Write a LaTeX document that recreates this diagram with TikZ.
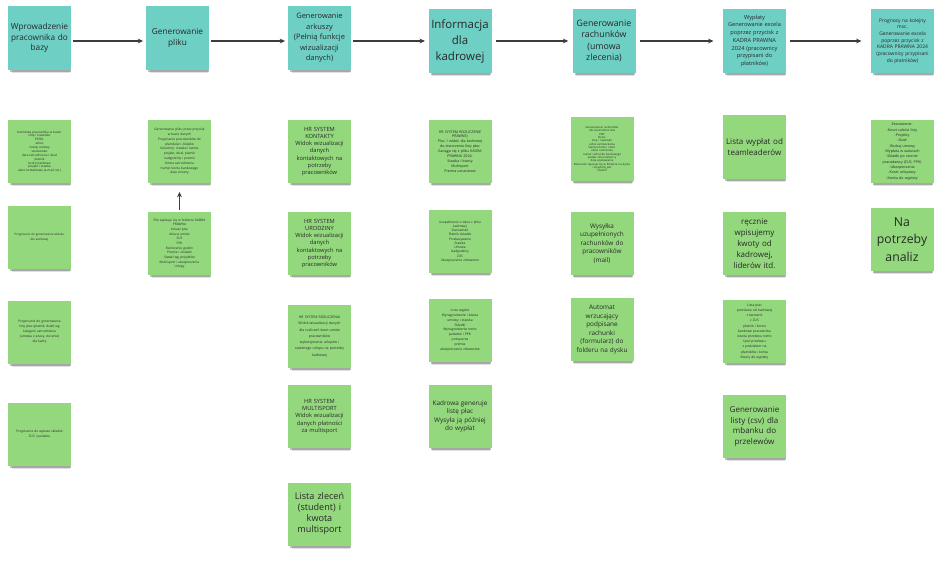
\documentclass[tikz,border=0pt]{standalone}
\usepackage{fontspec}
\setmainfont{Open Sans}
\usetikzlibrary{arrows.meta,shadows}
\definecolor{tealnote}{RGB}{110,207,197}
\definecolor{greennote}{RGB}{147,216,125}
\definecolor{arrowgray}{RGB}{60,60,60}
\definecolor{notetext}{RGB}{40,40,40}
\tikzset{
  x=0.75pt, y=-0.75pt,
  notebase/.style={minimum width=47.25pt, minimum height=47.25pt, inner sep=1pt,
    align=center, text width=45pt, text=notetext,
    drop shadow={shadow xshift=1pt, shadow yshift=-4.5pt, shadow scale=0.92, opacity=0.12, fill=black},
    drop shadow={shadow xshift=0.6pt, shadow yshift=-2.6pt, shadow scale=0.96, opacity=0.25, fill=black}},
  topnote/.style={notebase, fill=tealnote, minimum height=48pt},
  gnote/.style={notebase, fill=greennote},
  fmid/.style={font=\fontsize{6.2}{8}\selectfont},
  fbig/.style={font=\fontsize{8.6}{12}\selectfont},
  fhuge/.style={font=\fontsize{9.2}{13}\selectfont},
  fsmall/.style={font=\fontsize{5.6}{7.9}\selectfont},
  fhr/.style={font=\fontsize{4.3}{5.4}\selectfont},
  fsm/.style={font=\fontsize{4.8}{6.4}\selectfont},
  fxs/.style={font=\fontsize{4.2}{5.8}\selectfont},
  fxxs/.style={font=\fontsize{3.7}{5}\selectfont},
  fz/.style={font=\fontsize{#1}{#1*1.45}\selectfont},
  fzz/.style 2 args={font=\fontsize{#1}{#2}\selectfont},
  flow/.style={-{Stealth[length=4pt,width=3.6pt]}, draw=arrowgray, line width=0.8pt},
}
\begin{document}
\begin{tikzpicture}
\useasboundingbox[fill=white] (0,0) rectangle (952,563);

% ---------------- top row ----------------
\node[topnote, fmid] (t1) at (39.5,38) {Wprowadzenie\\ pracownika do\\ bazy};
\node[topnote, fmid] (t2) at (177.5,38) {Generowanie\\ pliku};
\node[topnote, fsmall] (t3) at (319.5,38) {Generowanie\\ arkuszy\\ (Pełnią funkcje\\ wizualizacji\\ danych)};
\node[topnote, fbig] (t4) at (460,41) {Informacja\\ dla\\ kadrowej};
\node[topnote, font=\fontsize{6.6}{8.4}\selectfont] (t5) at (604,41) {Generowanie\\ rachunków\\ (umowa\\ zlecenia)};
\node[topnote, fxs] (t6) at (754.5,41) {Wypłaty\\ Generowanie excela\\ poprzez przycisk z\\ KADRA PRAWNA\\ 2024 (pracownicy\\ przypisani do\\ płatników)};
\node[topnote, fxxs] (t7) at (902.5,41) {Prognozy na kolejny\\ msc.\\ Generowanie excela\\ poprzez przycisk z\\ KADRA PRAWNA 2024\\ (pracownicy przypisani\\ do płatników)};

\draw[flow, shorten <=1pt, shorten >=2pt] (t1.east |- t4.center) -- (t2.west |- t4.center);
\draw[flow, shorten <=1.5pt, shorten >=2pt] (t2.east |- t4.center) -- (t3.west |- t4.center);
\draw[flow, shorten <=1.5pt, shorten >=2.5pt] (t3.east |- t4.center) -- (t4.west);
\draw[flow, shorten <=3pt, shorten >=3pt] (t4.east) -- (t5.west);
\draw[flow, shorten <=3.5pt, shorten >=7pt] (t5.east) -- (t6.west);
\draw[flow, shorten <=3pt, shorten >=7pt] (t6.east) -- (t7.west);

% ---------------- column 1 ----------------
\node[gnote, fzz={2.3}{2.9}] (c1a) at (39.5,151.5) {Kartoteka pracownika w bazie:\\ imię i nazwisko\\ PESEL\\ adres\\ rodzaj umowy\\ stanowisko\\ data zatrudnienia i dział\\ płatnik\\ konto bankowe\\ projekt i stawka\\ dane kontaktowe (e-mail, tel.)};
\node[gnote, fzz={2.2}{3.7}] (c1b) at (39.5,237.5) {Przypisanie do generowania widoku\\ dla kadrowej};
\node[gnote, fzz={2.4}{3.7}] (c1c) at (39.5,332) {Przypisanie do generowania\\ listy płac (płatnik, dział) wg\\ kategorii zatrudnienia\\ (umowa o pracę, zlecenie)\\ dla kadry};
\node[gnote, fzz={2.4}{3.7}] (c1d) at (39.5,434.5) {Przypisanie do wykazu składek\\ ZUS i podatku};

% ---------------- column 2 ----------------
\node[gnote, fzz={2.4}{3.6}] (c2a) at (179.5,151.5) {Generowanie pliku przez przycisk\\ w bazie danych\\ Przypisanie pracowników do\\ płatników i działów\\ Kolumny: stawka i kwota\\ projekt, dział, płatnik\\ nadgodziny i premie\\ forma zatrudnienia\\ numer konta bankowego\\ data zmiany};
\node[gnote, fzz={2.4}{3.5}] (c2b) at (179.5,243.5) {Plik zapisuje się w folderze KADRA\\ PRAWNA\\ Arkusz płac\\ Arkusz umów\\ ZUS\\ PPK\\ Rozliczenie godzin\\ Premie i dodatki\\ Stawki wg projektów\\ Multisport i ubezpieczenia\\ Urlopy};
\draw[flow, shorten <=1.5pt, shorten >=6.5pt] (c2b.north) -- (c2a.south);

% ---------------- column 3 ----------------
\node[gnote, fhr] (c3a) at (319.5,151.5) {HR SYSTEM\\ KONTAKTY\\ Widok wizualizacji\\ danych\\ kontaktowych na\\ potrzeby\\ pracowników};
\node[gnote, fhr] (c3b) at (319.5,243.5) {HR SYSTEM\\ URODZINY\\ Widok wizualizacji\\ danych\\ kontaktowych na\\ potrzeby\\ pracowników};
\node[gnote, fzz={2.6}{4.7}] (c3c) at (319.5,336.5) {HR SYSTEM ROZLICZENIA\\ Widok wizualizacji danych\\ dla rozliczeń kwot umów\\ pracowników\\ wykorzystania urlopów i\\ należnego urlopu na potrzeby\\ kadrowej};
\node[gnote, fhr] (c3d) at (319.5,416.5) {HR SYSTEM\\ MULTISPORT\\ Widok wizualizacji\\ danych płatności\\ za multisport};
\node[gnote, font=\fontsize{6.8}{8.3}\selectfont] (c3e) at (319.5,514) {Lista zleceń\\ (student) i\\ kwota\\ multisport};

% ---------------- column 4 ----------------
\node[gnote, fzz={2.7}{3.7}] (c4a) at (460,151.5) {HR SYSTEM ROZLICZENIE\\ PRAWNEJ\\ Plus 1 widok dla kadrowej\\ do stworzenia listy płac\\ Zaciąga się z pliku KADRA\\ PRAWNA 2024:\\ Stawka i kwoty\\ Multisport\\ Premia uznaniowa};
\node[gnote, fzz={2.4}{3.2}] (c4b) at (460,241.5) {Uzupełnienie o dane z pliku\\ kadrowej\\ Stanowisko\\ Płatnik składek\\ Przekazywanie\\ Stawka\\ Umowa\\ Nadgodziny\\ ZUS\\ Ubezpieczenie zdrowotne};
\node[gnote, fzz={2.5}{3.6}] (c4c) at (460,330) {Lista wypłat\\ Wynagrodzenie i kwota\\ umowy i stawka\\ Składki\\ Wynagrodzenie netto\\ podatek i PPK\\ potrącenia\\ premia\\ ubezpieczenie zdrowotne};
\node[gnote, fsm] (c4d) at (460,416.5) {Kadrowa generuje\\ listę płac\\ Wysyła ją później\\ do wypłat};

% ---------------- column 5 ----------------
\node[gnote, fzz={2.1}{2.5}] (c5a) at (602,149) {Generowanie rachunków\\ dla zleceniobiorców\\ PDF\\ Dane:\\ imię i nazwisko\\ adres zamieszkania\\ kwota brutto i netto\\ okres rozliczenia\\ numer rachunku bankowego\\ podpis zleceniobiorcy\\ data wystawienia\\ Rachunek zapisuje się w folderze na dysku\\ i wysyłany jest\\ mailem};
\node[gnote, fsm] (c5b) at (602,243.5) {Wysyłka\\ uzupełnionych\\ rachunków do\\ pracowników\\ (mail)};
\node[gnote, fsm] (c5c) at (602,329.5) {Automat\\ wrzucający\\ podpisane\\ rachunki\\ (formularz) do\\ folderu na dysku};

% ---------------- column 6 ----------------
\node[gnote, font=\fontsize{6}{8.2}\selectfont] (c6a) at (754.5,147) {Lista wypłat od\\ teamleaderów};
\node[gnote, font=\fontsize{6}{8.2}\selectfont] (c6b) at (754.5,243.5) {ręcznie\\ wpisujemy\\ kwoty od\\ kadrowej,\\ liderów itd.};
\node[gnote, fzz={2.5}{3.9}] (c6c) at (754.5,331.5) {Lista płac\\ przesłana od kadrowej\\ z kwotami\\ z ZUS\\ płatnik i konto\\ bankowe pracownika\\ kwota przelewu netto\\ tytuł przelewu\\ z podziałem na\\ płatników i konta\\ Kwoty do wypłaty};
\node[gnote, font=\fontsize{6}{8.2}\selectfont] (c6d) at (754.5,426.5) {Generowanie\\ listy (csv) dla\\ mbanku do\\ przelewów};

% ---------------- column 7 ----------------
\node[gnote, fzz={2.7}{4}] (c7a) at (902,151.5) {Zestawienie:\\ -Koszt całości listy\\ -Projekty\\ -Dział\\ -Rodzaj umowy\\ -Wypłata w walutach\\ -Składki po stronie\\ pracodawcy (ZUS, PPK)\\ -Ubezpieczenia\\ -Koszt urlopowy\\ -Kwota do wypłaty};
\node[gnote, fhuge] (c7b) at (902,239.5) {Na\\ potrzeby\\ analiz};
\end{tikzpicture}
\end{document}
